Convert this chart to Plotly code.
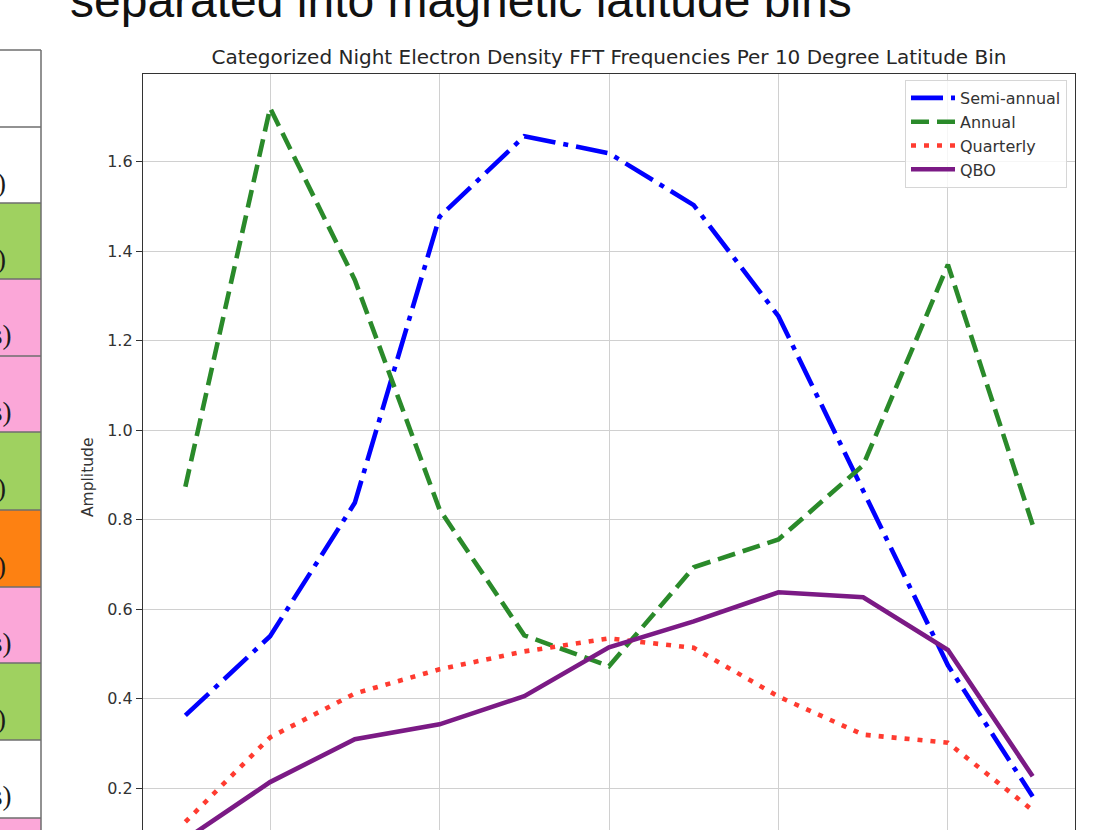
import plotly.graph_objects as go

# ---------------- data ----------------
latitude = [-50, -40, -30, -20, -10, 0, 10, 20, 30, 40, 50]
semi_annual = [0.363, 0.540, 0.838, 1.477, 1.657, 1.619, 1.503, 1.255, 0.865, 0.475, 0.182]
annual = [0.874, 1.720, 1.336, 0.823, 0.542, 0.473, 0.694, 0.756, 0.922, 1.370, 0.789]
quarterly = [0.125, 0.314, 0.412, 0.466, 0.506, 0.535, 0.514, 0.405, 0.320, 0.302, 0.151]
qbo = [0.086, 0.214, 0.310, 0.343, 0.406, 0.515, 0.573, 0.638, 0.627, 0.509, 0.227]

y_ticks = [0.2, 0.4, 0.6, 0.8, 1.0, 1.2, 1.4, 1.6]
y_tick_labels = ["0.2", "0.4", "0.6", "0.8", "1.0", "1.2", "1.4", "1.6"]
x_grid = [-40, -20, 0, 20, 40]

chart_title = "Categorized Night Electron Density FFT Frequencies Per 10 Degree Latitude Bin"
slide_title = "separated into magnetic latitude bins"

# left (cropped) slide table: row fills and visible text endings
table_row_colors = ["white", "white", "#9fd160", "#fba7d8", "#fba7d8", "#9fd160",
                    "#fd8112", "#fba7d8", "#9fd160", "white", "#fba7d8"]
table_row_text = ["", ")", ")", "s)", "s)", ")", ")", "s)", ")", "s)", ""]

# ---------------- layout geometry ----------------
W, H = 1109, 830
L, R, T, B = 143, 34, 74, 0
PW, PH = W - L - R, H - T - B


def px_x(X):
    return (X - L) / PW


def px_y(Y):
    return (H - B - Y) / PH


fig = go.Figure()
fig.add_trace(go.Scatter(x=latitude, y=semi_annual, mode="lines", name="Semi-annual",
                         line=dict(color="#0000ff", width=4.6, dash="32px,8px,5px,8px")))
fig.add_trace(go.Scatter(x=latitude, y=annual, mode="lines", name="Annual",
                         line=dict(color="#2a8a2a", width=4.6, dash="18px,8px")))
fig.add_trace(go.Scatter(x=latitude, y=quarterly, mode="lines", name="Quarterly",
                         line=dict(color="#ff3b30", width=4.6, dash="5px,8px")))
fig.add_trace(go.Scatter(x=latitude, y=qbo, mode="lines", name="QBO",
                         line=dict(color="#7b1a85", width=4.6)))

shapes = []
annotations = []

# table rows
row_edges = [50, 127, 203, 279, 356, 432, 510, 587, 663, 740, 818, 900]
for i, col in enumerate(table_row_colors):
    y0, y1 = row_edges[i], row_edges[i + 1]
    shapes.append(dict(type="rect", xref="paper", yref="paper",
                       x0=px_x(-20), x1=px_x(41), y0=px_y(y1), y1=px_y(y0),
                       fillcolor=col, line=dict(width=0), layer="below"))
for ye in row_edges[:-1]:
    shapes.append(dict(type="line", xref="paper", yref="paper",
                       x0=px_x(-20), x1=px_x(41), y0=px_y(ye), y1=px_y(ye),
                       line=dict(color="#6e6e6e", width=1.5)))
shapes.append(dict(type="line", xref="paper", yref="paper",
                   x0=px_x(41), x1=px_x(41), y0=px_y(row_edges[0]), y1=px_y(840),
                   line=dict(color="#6e6e6e", width=1.5)))
for i, txt in enumerate(table_row_text):
    if not txt:
        continue
    yc = row_edges[i] + 56
    annotations.append(dict(text=txt, xref="paper", yref="paper",
                            x=px_x(14 if txt == "s)" else 7.5), y=px_y(yc),
                            xanchor="right", yanchor="middle", showarrow=False,
                            font=dict(family="Liberation Serif", size=27, color="#1a1a1a")))

# slide title (cut off at the top)
annotations.append(dict(text=slide_title, xref="paper", yref="paper",
                        x=px_x(68), y=px_y(29), xanchor="left", yanchor="bottom",
                        showarrow=False,
                        font=dict(family="Liberation Sans", size=48, color="#111111")))

# y axis label
annotations.append(dict(text="Amplitude", xref="paper", yref="paper",
                        x=px_x(88), y=px_y(478), xanchor="center", yanchor="middle",
                        textangle=-90, showarrow=False,
                        font=dict(family="DejaVu Sans", size=15.5, color="#333333")))

fig.update_layout(
    width=W, height=H, autosize=False,
    margin=dict(l=L, r=R, t=T, b=B, pad=0),
    paper_bgcolor="white", plot_bgcolor="white",
    font=dict(family="DejaVu Sans", color="#333333"),
    title=dict(text=chart_title, x=(609) / W, xanchor="center",
               y=1 - 57 / H, yanchor="middle", yref="container", xref="container",
               font=dict(family="DejaVu Sans", size=20, color="#262626")),
    xaxis=dict(range=[-55, 55], side="top", showline=True, linecolor="#333333", linewidth=1.3,
               mirror=False, tickvals=x_grid, showticklabels=False, ticks="",
               showgrid=True, gridcolor="#d0d0d0", gridwidth=1.3, zeroline=False, fixedrange=True),
    yaxis=dict(range=[0.107, 1.796], showline=True, linecolor="#333333", linewidth=1.3,
               mirror=True, tickvals=y_ticks, ticktext=y_tick_labels, ticks="outside",
               ticklen=6, tickwidth=1.3, tickcolor="#333333",
               tickfont=dict(family="DejaVu Sans", size=16, color="#333333"),
               showgrid=True, gridcolor="#d0d0d0", gridwidth=1.3, zeroline=False, fixedrange=True),
    legend=dict(x=px_x(1067), y=px_y(80), xanchor="right", yanchor="top",
                bgcolor="rgba(255,255,255,0.8)", bordercolor="#d6d6d6", borderwidth=1,
                font=dict(family="DejaVu Sans", size=16, color="#333333"),
                itemwidth=44, tracegroupgap=0),
    shapes=shapes,
    annotations=annotations,
    showlegend=True,
)

fig.write_html("out.html", config={"displayModeBar": False},
               post_script="document.body.style.margin='0px';document.body.style.overflow='hidden';")
